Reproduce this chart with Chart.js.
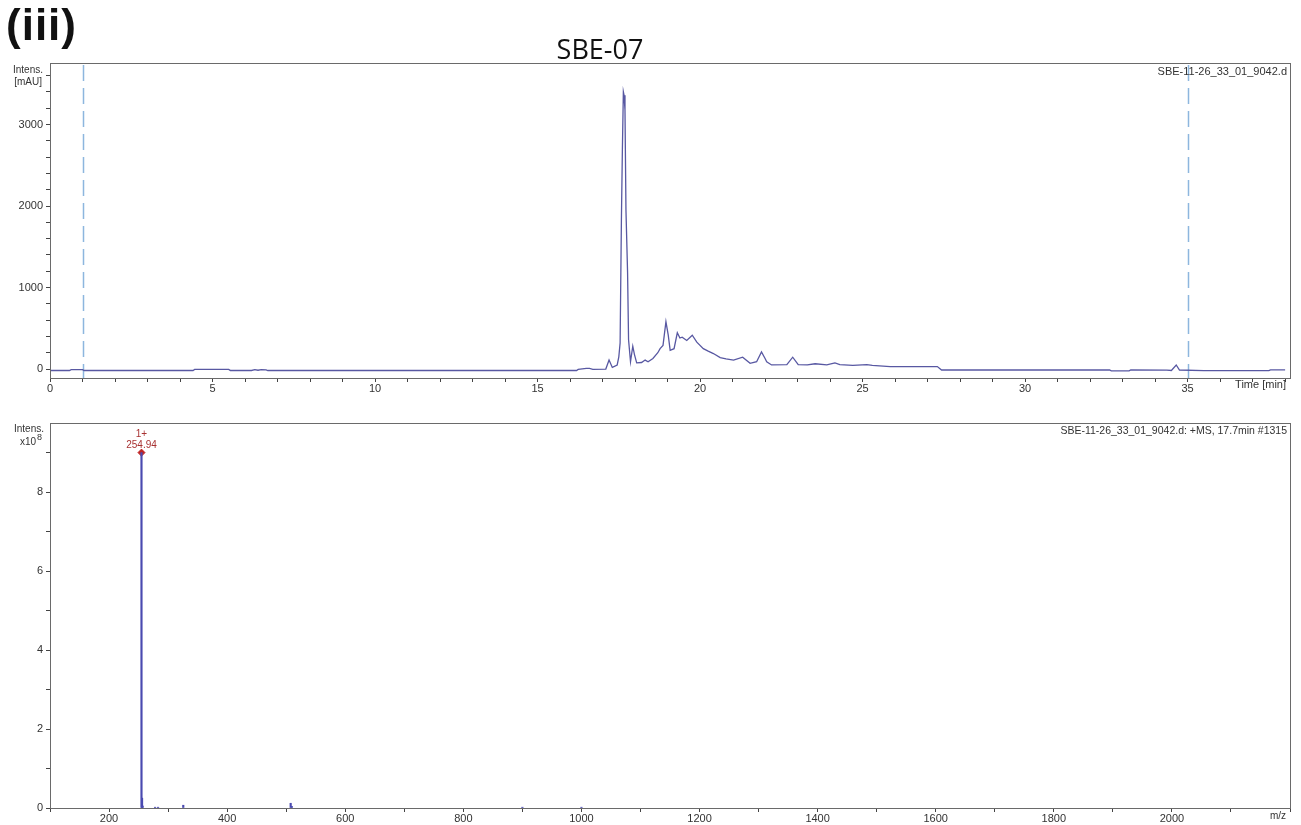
<!DOCTYPE html>
<html>
<head>
<meta charset="utf-8">
<script src="https://cdn.jsdelivr.net/npm/chart.js@4.4.0/dist/chart.umd.min.js"></script>
<style>
  body { margin: 0; background: #fff; width: 1301px; height: 825px; position: relative; overflow: hidden; font-family: 'Liberation Sans', Arial, sans-serif; }
  .abs { position: absolute; white-space: nowrap; }
  #panel { left: 6px; top: 0px; font-weight: bold; font-size: 44px; color: #111; letter-spacing: 1px; }
  #title { left: 500px; width: 200px; text-align: center; top: 30px; font-size: 27px; font-family: 'Open Sans', sans-serif; color: #111; }
  #wrapTop { position: absolute; left: 0; top: 0; width: 1301px; height: 400px; }
  #wrapBot { position: absolute; left: 0; top: 400px; width: 1301px; height: 425px; }
</style>
</head>
<body>
<div id="wrapTop"><canvas id="cTop" width="1301" height="400"></canvas></div>
<div id="wrapBot"><canvas id="cBot" width="1301" height="425"></canvas></div>
<div class="abs" id="panel">(iii)</div>
<div class="abs" id="title">SBE-07</div>
<script>
// UV trace (time in min, intensity in mAU)
const uvTime = [0, 0.6, 0.65, 1.0, 1.05, 4.4, 4.45, 5.5, 5.55, 6.2, 6.3, 6.4, 6.5, 6.65, 6.7,
  16.2, 16.25, 16.5, 16.6, 16.7, 17.1, 17.2, 17.3, 17.45, 17.5, 17.54, 17.58, 17.61, 17.64, 17.66,
  17.69, 17.72, 17.77, 17.8, 17.86, 17.93, 17.98, 18.05, 18.2, 18.31, 18.4, 18.55, 18.7, 18.77,
  18.86, 18.95, 19.02, 19.08, 19.2, 19.3, 19.38, 19.45, 19.59, 19.76, 19.9, 20.1, 20.25, 20.41,
  20.62, 20.8, 21.03, 21.31, 21.54, 21.74, 21.89, 22.0, 22.05, 22.2, 22.67, 22.85, 23.02, 23.3,
  23.54, 23.9, 24.15, 24.3, 24.7, 25.13, 25.3, 25.85, 27.3, 27.43, 32.6, 32.65, 33.2, 33.25,
  34.36, 34.5, 34.65, 34.75, 35.5, 37.5, 37.55, 38.0];
const uvIntensity = [-18, -18, -8, -8, -18, -18, -5, -5, -18, -18, -8, -15, -8, -10, -18,
  -18, -5, 8, 8, -3, 0, 110, 20, 50, 150, 320, 1830, 2690, 3400, 3360,
  3180, 1950, 1180, 360, 90, 280, 180, 75, 80, 110, 90, 130, 200, 250,
  290, 580, 420, 230, 250, 445, 380, 390, 350, 415, 330, 250, 220, 190,
  140, 125, 110, 145, 70, 90, 210, 130, 90, 50, 55, 145, 55, 50,
  65, 50, 75, 55, 45, 55, 45, 30, 30, -12, -12, -22, -22, -12,
  -14, -18, 50, -12, -20, -20, -10, -10];
const markerTimes = [1, 35];

// mass spectrum at 17.7 min (m/z, intensity x10^8)
const msMz = [254.94, 255.9, 256.9, 278, 283, 325.7, 507.6, 509.5, 900, 1000];
const msIntensity = [9.0, 0.25, 0.05, 0.02, 0.02, 0.07, 0.12, 0.04, 0.02, 0.02];
const peakMz = [254.94];
const peakIntensity = [9.0];
const peakLabels = [['1+', '254.94']];

const xTicksTop = Array.from({ length: 39 }, (_, i) => i);
const yTicksTop = Array.from({ length: 19 }, (_, i) => i * 200);
const xTicksBot = Array.from({ length: 22 }, (_, i) => 100 + i * 100);
const yTicksBot = Array.from({ length: 10 }, (_, i) => i);

const AXIS = '#444';
const TXT = '#333';

const framePlugin = {
  id: 'frame',
  afterDatasetsDraw(chart) {
    const a = chart.chartArea;
    const ctx = chart.ctx;
    ctx.save();
    ctx.strokeStyle = '#6a6a6a';
    ctx.lineWidth = 1;
    ctx.strokeRect(Math.round(a.left) + 0.5, Math.round(a.top) + 0.5, Math.round(a.right - a.left), Math.round(a.bottom - a.top));
    ctx.restore();
  },
};

function textPlugin(items) {
  return {
    id: 'texts',
    afterDraw(chart) {
      const ctx = chart.ctx;
      ctx.save();
      items.forEach((t) => {
        ctx.font = t.font;
        ctx.fillStyle = t.color || TXT;
        ctx.textAlign = t.align || 'left';
        ctx.textBaseline = 'middle';
        ctx.fillText(t.text, t.x, t.y);
      });
      ctx.restore();
    },
  };
}

const dashPlugin = {
  id: 'dashes',
  beforeDatasetsDraw(chart) {
    const ctx = chart.ctx;
    const a = chart.chartArea;
    const xs = chart.scales.x;
    ctx.save();
    ctx.strokeStyle = '#8db6de';
    ctx.lineWidth = 1.5;
    ctx.setLineDash([16, 7]);
    markerTimes.forEach((t) => {
      const px = Math.round(xs.getPixelForValue(t)) + 0.5;
      ctx.beginPath();
      ctx.moveTo(px, a.top + 2);
      ctx.lineTo(px, a.bottom);
      ctx.stroke();
    });
    ctx.restore();
  },
};

const peakLabelPlugin = {
  id: 'peakLabel',
  afterDatasetsDraw(chart) {
    const meta = chart.getDatasetMeta(1);
    const ctx = chart.ctx;
    ctx.save();
    ctx.fillStyle = '#a83232';
    ctx.font = '10px "Liberation Sans", Arial, sans-serif';
    ctx.textAlign = 'center';
    ctx.textBaseline = 'alphabetic';
    meta.data.forEach((pt, i) => {
      ctx.fillText(peakLabels[i][0], pt.x, pt.y - 16);
      ctx.fillText(peakLabels[i][1], pt.x, pt.y - 5);
    });
    ctx.restore();
  },
};

function tickFont() {
  return { family: '"Liberation Sans", Arial, sans-serif', size: 11 };
}

new Chart(document.getElementById('cTop'), {
  type: 'line',
  data: {
    datasets: [{
      data: uvTime.map((t, i) => ({ x: t, y: uvIntensity[i] })),
      borderColor: '#5858a2',
      borderWidth: 1.3,
      pointRadius: 0,
      tension: 0,
    }],
  },
  options: {
    responsive: false,
    animation: false,
    layout: { padding: { top: 63, right: 11, left: 0, bottom: 0 } },
    plugins: { legend: { display: false }, tooltip: { enabled: false } },
    scales: {
      x: {
        type: 'linear', min: 0, max: 38.15,
        afterBuildTicks: (s) => { s.ticks = xTicksTop.map((v) => ({ value: v })); },
        afterFit: (s) => { s.height = 22; },
        ticks: { autoSkip: false, maxRotation: 0, padding: 0, color: TXT, font: tickFont(),
          callback: (v) => (v % 5 === 0 && v <= 35 ? String(v) : '') },
        grid: { drawOnChartArea: false, tickLength: 4, color: AXIS },
        border: { color: AXIS },
      },
      y: {
        min: -110, max: 3755,
        afterBuildTicks: (s) => { s.ticks = yTicksTop.map((v) => ({ value: v })); },
        afterFit: (s) => { s.width = 50; },
        ticks: { autoSkip: false, padding: 3, color: TXT, font: tickFont(),
          callback: (v) => (v % 1000 === 0 ? String(v) : '') },
        grid: { drawOnChartArea: false, tickLength: 4, color: AXIS },
        border: { color: AXIS },
      },
    },
  },
  plugins: [dashPlugin, framePlugin, textPlugin([
    { text: 'Intens.', x: 43, y: 70, align: 'right', font: '10px "Liberation Sans", Arial' },
    { text: '[mAU]', x: 42, y: 82, align: 'right', font: '10px "Liberation Sans", Arial' },
    { text: 'SBE-11-26_33_01_9042.d', x: 1287, y: 72, align: 'right', font: '11px "Liberation Sans", Arial' },
    { text: 'Time [min]', x: 1286, y: 385, align: 'right', font: '11px "Liberation Sans", Arial' },
  ])],
});

new Chart(document.getElementById('cBot'), {
  type: 'bar',
  data: {
    datasets: [
      {
        type: 'bar',
        data: msMz.map((m, i) => ({ x: m, y: msIntensity[i] })),
        backgroundColor: '#4a4ab0',
        borderWidth: 0,
        barThickness: 1.5,
      },
      {
        type: 'scatter',
        data: peakMz.map((m, i) => ({ x: m, y: peakIntensity[i] })),
        pointStyle: 'rectRot',
        pointRadius: 3.5,
        backgroundColor: '#c02424',
        borderColor: '#c02424',
      },
    ],
  },
  options: {
    responsive: false,
    animation: false,
    layout: { padding: { top: 23, right: 11, left: 0, bottom: 0 } },
    plugins: { legend: { display: false }, tooltip: { enabled: false } },
    scales: {
      x: {
        type: 'linear', min: 100, max: 2200, offset: false,
        afterBuildTicks: (s) => { s.ticks = xTicksBot.map((v) => ({ value: v })); },
        afterFit: (s) => { s.height = 17; },
        ticks: { autoSkip: false, maxRotation: 0, padding: 0, color: TXT, font: tickFont(),
          callback: (v) => (v % 200 === 0 && v <= 2000 ? String(v) : '') },
        grid: { drawOnChartArea: false, offset: false, tickLength: 4, color: AXIS },
        border: { color: AXIS },
      },
      y: {
        min: 0, max: 9.75,
        afterBuildTicks: (s) => { s.ticks = yTicksBot.map((v) => ({ value: v })); },
        afterFit: (s) => { s.width = 50; },
        ticks: { autoSkip: false, padding: 3, color: TXT, font: tickFont(),
          callback: (v) => (v % 2 === 0 ? String(v) : '') },
        grid: { drawOnChartArea: false, tickLength: 4, color: AXIS },
        border: { color: AXIS },
      },
    },
  },
  plugins: [framePlugin, peakLabelPlugin, textPlugin([
    { text: 'Intens.', x: 44, y: 29, align: 'right', font: '10px "Liberation Sans", Arial' },
    { text: 'x10', x: 36, y: 42, align: 'right', font: '10px "Liberation Sans", Arial' },
    { text: '8', x: 37, y: 38, align: 'left', font: '9px "Liberation Sans", Arial' },
    { text: 'SBE-11-26_33_01_9042.d: +MS, 17.7min #1315', x: 1287, y: 31, align: 'right', font: '10.5px "Liberation Sans", Arial' },
    { text: 'm/z', x: 1286, y: 416, align: 'right', font: '10px "Liberation Sans", Arial' },
  ])],
});
</script>
</body>
</html>
